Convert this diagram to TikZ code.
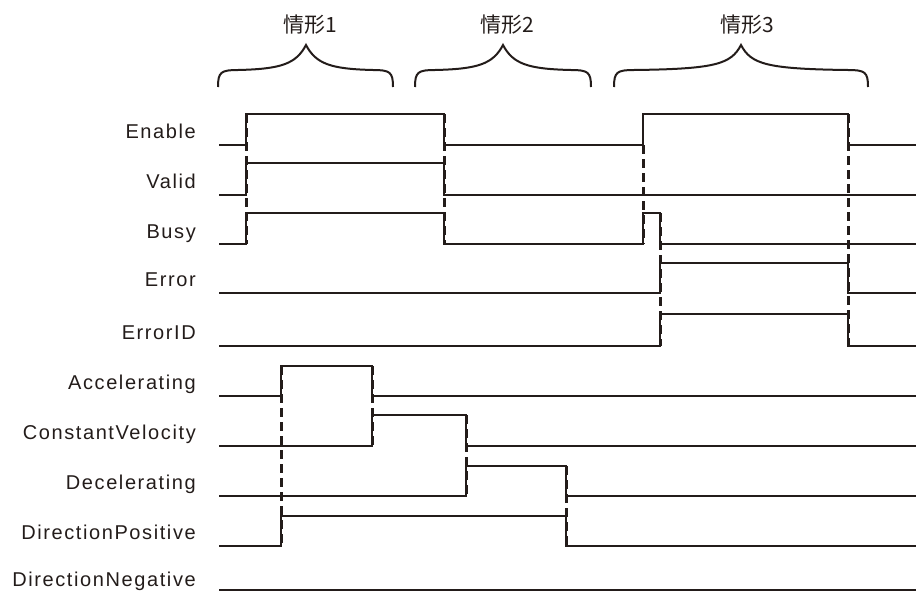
\documentclass[tikz,border=0pt]{standalone}
\usepackage{fontspec}
\setmainfont{Liberation Sans}
\newfontfamily\lblfont[LetterSpace=8]{Liberation Sans}
\newfontfamily\cjkfont{Noto Sans CJK SC}
\usepackage{tikz}
\usepackage{xcolor}
\definecolor{traceblack}{RGB}{35,28,26}

% curly brace over one case: left end, tip, right end
\newcommand{\casebrace}[3]{%
  \draw[bracestyle] (#1,87) .. controls (#1,72) and (#1+3,70) .. (#1+20,70)
    .. controls (#2-25,69) and (#2-10,64) .. (#2,45)
    .. controls (#2+10,64) and (#2+25,69) .. (#3-20,70)
    .. controls (#3-3,70) and (#3,72) .. (#3,87);}

\begin{document}
\begin{tikzpicture}[x=1pt, y=-1pt,
  sig/.style={draw=traceblack, line width=1.9pt},
  edge/.style={draw=traceblack, line width=3pt, dash pattern=on 9pt off 5pt},
  bracestyle/.style={draw=traceblack, line width=2pt},
  lbl/.style={anchor=base east, inner sep=0pt, text=traceblack, font=\lblfont\fontsize{20}{24}\selectfont},
  case/.style={text=traceblack, font=\cjkfont\fontsize{21}{25}\selectfont}]
\useasboundingbox (0,0) rectangle (916,592);

% Cases
\node[case] (case1) at (310,25) {情形1};
\node[case] (case2) at (507,25) {情形2};
\node[case] (case3) at (747,25) {情形3};
\casebrace{218}{306}{393}
\casebrace{415}{503}{591}
\casebrace{614}{741}{868}

% Signal names
\node[lbl] (enable) at (196,138) {Enable};
\node[lbl] (valid) at (196,188) {Valid};
\node[lbl] (busy) at (196,238) {Busy};
\node[lbl] (error) at (196,286) {Error};
\node[lbl] (errorid) at (196,339) {ErrorID};
\node[lbl] (accel) at (196,389) {Accelerating};
\node[lbl] (constvel) at (196,439) {ConstantVelocity};
\node[lbl] (decel) at (196,489) {Decelerating};
\node[lbl] (dirpos) at (196,539) {DirectionPositive};
\node[lbl] (dirneg) at (196,586) {DirectionNegative};

% Waveforms
\draw[sig] (219,145) -- (246,145) -- (246,114) -- (444,114) -- (444,145) -- (643,145) -- (643,114) -- (848,114) -- (848,145) -- (916,145);
\draw[sig] (219,195) -- (246,195) -- (246,163) -- (444,163) -- (444,195) -- (916,195);
\draw[sig] (219,244) -- (246,244) -- (246,213) -- (444,213) -- (444,244) -- (643,244) -- (643,213) -- (660,213) -- (660,244) -- (916,244);
\draw[sig] (219,293) -- (660,293) -- (660,263) -- (848,263) -- (848,293) -- (916,293);
\draw[sig] (219,346) -- (660,346) -- (660,314) -- (848,314) -- (848,346) -- (916,346);
\draw[sig] (219,396) -- (281,396) -- (281,366) -- (372,366) -- (372,396) -- (916,396);
\draw[sig] (219,446) -- (372,446) -- (372,415) -- (466,415) -- (466,446) -- (916,446);
\draw[sig] (219,496) -- (466,496) -- (466,466) -- (566,466) -- (566,496) -- (916,496);
\draw[sig] (219,546) -- (281,546) -- (281,516) -- (566,516) -- (566,546) -- (916,546);
\draw[sig] (219,590) -- (916,590);

% Transitions
\draw[edge] (246,114) -- (246,244);
\draw[edge] (444,114) -- (444,244);
\draw[edge] (643,145) -- (643,244);
\draw[edge] (660,213) -- (660,346);
\draw[edge] (848,114) -- (848,346);
\draw[edge] (281,366) -- (281,546);
\draw[edge] (372,366) -- (372,446);
\draw[edge] (466,415) -- (466,496);
\draw[edge] (566,466) -- (566,546);
\end{tikzpicture}
\end{document}
